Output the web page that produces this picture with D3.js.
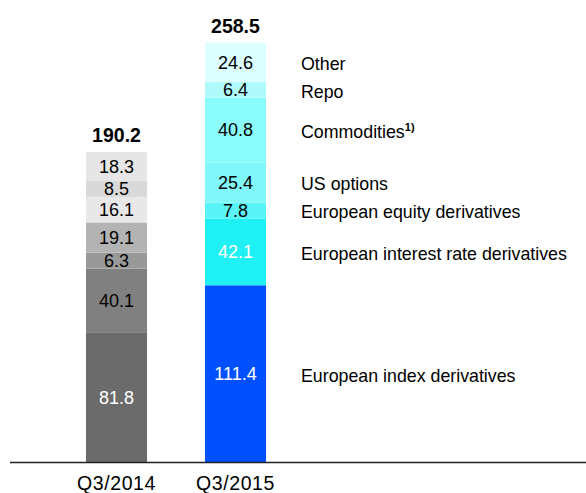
<!DOCTYPE html>
<html>
<head>
<meta charset="utf-8">
<script src="https://cdn.jsdelivr.net/npm/d3@7"></script>
<style>
  body { margin: 0; background: #fff; }
  text { font-family: "Liberation Sans", Arial, sans-serif; }
</style>
</head>
<body>
<div id="chart"></div>
<script>
// periods on the x axis
var periods = ["Q3/2014", "Q3/2015"]
// segments, bottom to top
var segments = ["European index derivatives", "European interest rate derivatives",
  "European equity derivatives", "US options", "Commodities", "Repo", "Other"]
var values2014 = [81.8, 40.1, 6.3, 19.1, 16.1, 8.5, 18.3]
var values2015 = [111.4, 42.1, 7.8, 25.4, 40.8, 6.4, 24.6]
var totals = [190.2, 258.5]

var colors2014 = ["#6b6b6b", "#808080", "#999999", "#b3b3b3", "#e8e8e8", "#d9d9d9", "#e6e6e6"]
var colors2015 = ["#0050ff", "#1ef0f4", "#58f4f8", "#80f8fa", "#8afcfc", "#b0fafc", "#dcffff"]
var whiteLabels = ["81.8", "111.4", "42.1"]

var width = 586, height = 493
var MIN_SEG = 10 // small segments get a minimum height so the label fits

var svg = d3.select("#chart").append("svg")
    .attr("width", width).attr("height", height)

var x = d3.scaleBand().domain(periods).range([86, 266]).paddingInner(0.487).paddingOuter(0)
var y = d3.scaleLinear().domain([0, 264.3]).range([462, 42.7])

function stackUp(vals, cols) {
  var acc = 0
  return vals.map(function(v, i) {
    var h = Math.max(v, MIN_SEG)
    var d = { value: v, y0: acc, y1: acc + h, color: cols[i], name: segments[i] }
    acc += h
    return d
  })
}

var stacks = [stackUp(values2014, colors2014), stackUp(values2015, colors2015)]

stacks.forEach(function(stack, bi) {
  var g = svg.append("g").attr("transform", "translate(" + x(periods[bi]) + ",0)")

  g.selectAll("rect").data(stack).enter().append("rect")
      .attr("x", 0)
      .attr("width", x.bandwidth())
      .attr("y", function(d) { return y(d.y1) })
      .attr("height", function(d) { return y(d.y0) - y(d.y1) })
      .attr("fill", function(d) { return d.color })

  g.selectAll("text.val").data(stack).enter().append("text")
      .attr("class", "val")
      .attr("x", x.bandwidth() / 2)
      .attr("y", function(d) { return y((d.y0 + d.y1) / 2) })
      .attr("dy", "0.36em")
      .attr("text-anchor", "middle")
      .attr("font-size", 18)
      .attr("fill", function(d) { return whiteLabels.indexOf(d.value.toFixed(1)) >= 0 ? "#fff" : "#000" })
      .text(function(d) { return d.value.toFixed(1) })

  g.append("text")
      .attr("x", x.bandwidth() / 2)
      .attr("y", y(stack[stack.length - 1].y1) - 10)
      .attr("text-anchor", "middle")
      .attr("font-size", 19.5)
      .attr("font-weight", "bold")
      .text(totals[bi].toFixed(1))
})

// legend to the right, aligned with the 2015 segments
var legend = svg.append("g")
legend.selectAll("text").data(stacks[1]).enter().append("text")
    .attr("x", 301)
    .attr("y", function(d) { return y((d.y0 + d.y1) / 2) + 1.5 })
    .attr("dy", "0.36em")
    .attr("font-size", 17.8)
    .each(function(d) {
      var t = d3.select(this)
      t.append("tspan").text(d.name)
      if (d.name == "Commodities") {
        t.append("tspan").attr("font-size", 11).attr("dy", "-0.6em").attr("font-weight", "bold").text("1)")
      }
    })

// baseline and x labels
svg.append("line")
    .attr("x1", 10).attr("x2", width)
    .attr("y1", y(0) + 0.5).attr("y2", y(0) + 0.5)
    .attr("stroke", "#222").attr("stroke-width", 1.3)

svg.selectAll("text.xlab").data(periods).enter().append("text")
    .attr("class", "xlab")
    .attr("x", function(d) { return x(d) + x.bandwidth() / 2 })
    .attr("y", 490)
    .attr("text-anchor", "middle")
    .attr("font-size", 19.5)
    .attr("letter-spacing", 0.6)
    .text(function(d) { return d })
</script>
</body>
</html>
